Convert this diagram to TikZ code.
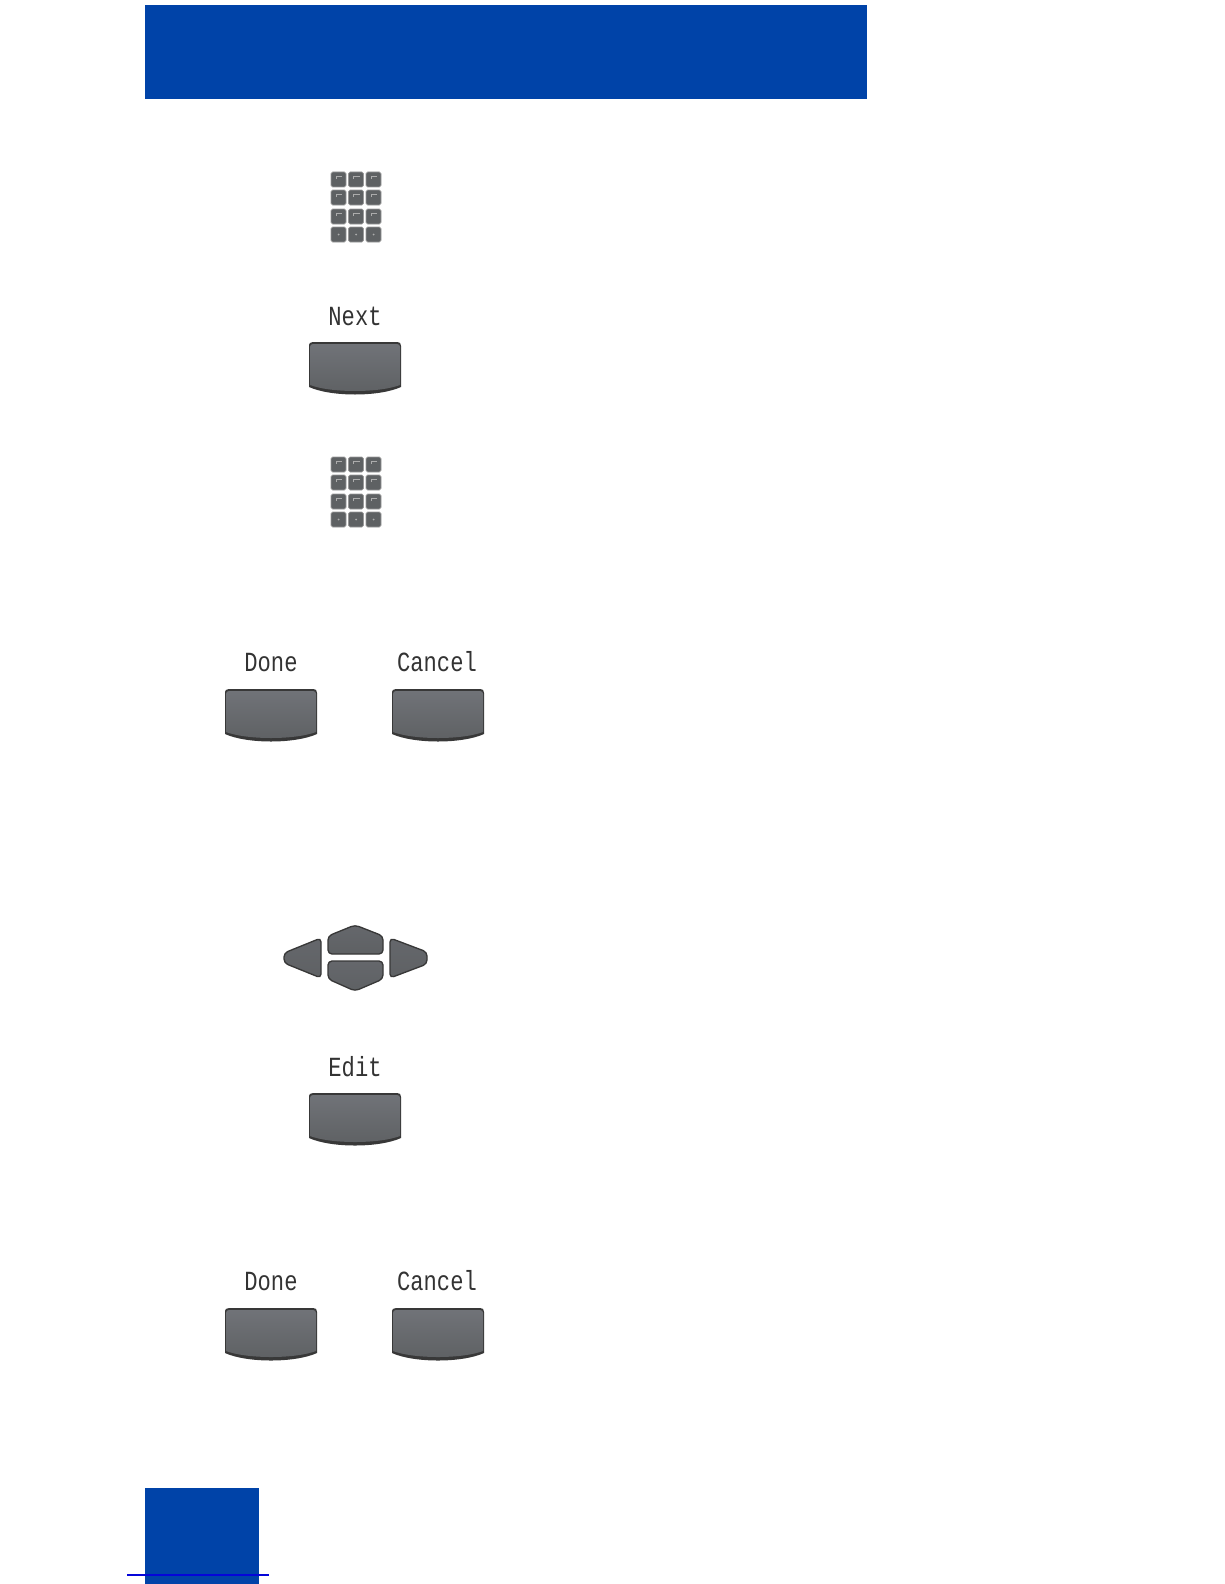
\documentclass[tikz,border=0pt]{standalone}
\usepackage{fontspec}
\usepackage{tikz}
\usetikzlibrary{positioning}
\newfontfamily\lcdfont{Liberation Mono}
\definecolor{headblue}{rgb}{0,0.263,0.659}
\definecolor{rulerblue}{rgb}{0.02,0.02,0.85}
\definecolor{keydark}{rgb}{0.22,0.22,0.22}
\definecolor{keymid}{rgb}{0.44,0.45,0.47}
\definecolor{keylow}{rgb}{0.37,0.38,0.39}
\tikzset{
  softlabel/.style={inner sep=0pt,font=\lcdfont\fontsize{16.6pt}{18pt}\selectfont,text=black!80},
  keycap/.style={rounded corners=1.2pt,fill=keylow,draw=gray!80,line width=0.5pt},
  keymark/.style={gray!65,line width=0.4pt},
  navkey/.style={rounded corners=3pt,draw=keydark,line width=1pt,top color=keymid!90!black,bottom color=keylow},
}
\newcommand{\softkey}[2]{
  \begin{scope}[shift={(#1,#2)}]
    %body
    \fill [keydark] (0,5) .. controls (0,1) and (1,0) .. (4,0) -- (88,0) .. controls (91,0) and (92,1) .. (92,4) -- (92,45) .. controls (70,55) and (22,55) .. (0,45) -- cycle ;
    %face
    \shade [top color=keymid,bottom color=keylow] (1,5) .. controls (1,3) and (2,2) .. (4,2) -- (88,2) .. controls (90,2) and (91,3) .. (91,5) -- (91,43) .. controls (70,51) and (22,51) .. (1,43) -- cycle ;
  \end{scope}
}
\newcommand{\keypad}[2]{
  \begin{scope}[shift={(#1,#2)}]
    \foreach \col in {0,17.5,35}
      \foreach \row in {0,18,37,55}
        \draw [keycap] (\col,\row) rectangle ++(15,15) ;
    %key marks
    \foreach \col in {0,17.5,35}
      \foreach \row in {0,18,37}
        \draw [keymark] (\col+5,\row+7) -- (\col+5,\row+4) -- (\col+11,\row+4) ;
    \foreach \col in {0,17.5,35}
      \fill [gray!65] (\col+7.5,62.5) circle (1) ;
  \end{scope}
}
\begin{document}
\begin{tikzpicture}[x=0.75pt,y=0.75pt,yscale=-1,xscale=1]
\useasboundingbox (0,0) rectangle (1224,1584);

%Header and page tab
\fill [headblue] (145,5) rectangle (867,99) ;
\fill [headblue] (145,1488) rectangle (259,1584) ;
\draw [rulerblue,line width=1pt] (127,1575) -- (269,1575) ;

%Keypads
\keypad{331}{172}
\keypad{331}{457}

%Soft keys
\softkey{309}{342}
\softkey{225}{689}
\softkey{392}{689}
\softkey{309}{1093}
\softkey{225}{1308}
\softkey{392}{1308}

%Navigation cluster
\draw [navkey] (328,936) -- (355,925) -- (383,936) -- (383,954) -- (328,954) -- cycle ;
\draw [navkey] (328,961) -- (383,961) -- (383,979) -- (355,991) -- (328,979) -- cycle ;
\draw [navkey] (321,938) -- (321,978) -- (284,963) -- (284,953) -- cycle ;
\draw [navkey] (390,938) -- (427,952) -- (427,964) -- (390,978) -- cycle ;

% Text Node
\node [softlabel] (nextlabel) at (355,316) {\scalebox{1}[1.25]{Next}};
\node [softlabel] (donelabel) at (271,663) {\scalebox{1}[1.25]{Done}};
\node [softlabel] (cancellabel) at (437,662) {\scalebox{1}[1.25]{Cancel}};
\node [softlabel] (editlabel) at (355,1067) {\scalebox{1}[1.25]{Edit}};
\node [softlabel] (donelabelb) at (271,1282) {\scalebox{1}[1.25]{Done}};
\node [softlabel] (cancellabelb) at (437,1281) {\scalebox{1}[1.25]{Cancel}};

\end{tikzpicture}
\end{document}
